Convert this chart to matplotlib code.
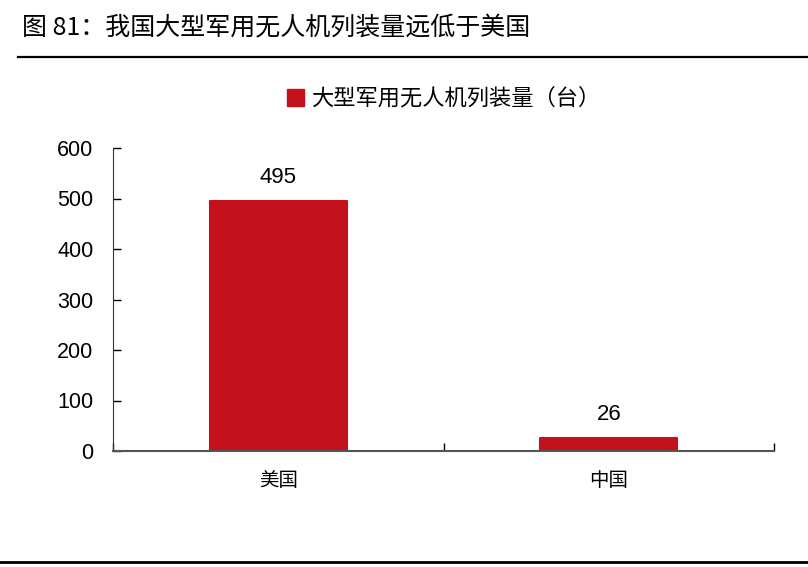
import matplotlib
matplotlib.use("Agg")
from matplotlib import pyplot as plt
from matplotlib.patches import Rectangle

plt.rcParams['font.family'] = ['Noto Sans CJK SC', 'DejaVu Sans']

categories = ["美国", "中国"]
values = [495, 26]
series_name = "大型军用无人机列装量（台）"
title = "图 81：我国大型军用无人机列装量远低于美国"
yticks = [0, 100, 200, 300, 400, 500, 600]

red = "#C3111D"
num_font = ['Liberation Sans Narrow', 'Liberation Sans', 'DejaVu Sans']

fig = plt.figure(figsize=(8.08, 5.67), dpi=100)
ax = fig.add_axes([113/808, 1-451/567, 661/808, (451-148)/567])

x = list(range(len(categories)))
bars = ax.bar(x, values, width=0.415, color=red, edgecolor=red,
              linewidth=1.5, joinstyle='round', label=series_name, zorder=2)
for xi, v in zip(x, values):
    ax.text(xi, v + 25, str(v), ha='center', va='bottom', fontsize=16,
            family=num_font)

ax.set_xlim(-0.5, len(categories) - 0.5)
ax.set_ylim(0, 600)
ax.set_yticks(yticks)
ax.set_yticklabels([str(t) for t in yticks], family=num_font, fontsize=15.5)
ax.set_xticks([-0.5, 0.5, 1.5], minor=True)
ax.set_xticks(x)
ax.set_xticklabels(categories, fontsize=14)
ax.tick_params(axis='x', which='major', length=0, pad=14)
ax.tick_params(axis='x', which='minor', direction='in', length=6, width=1)
ax.tick_params(axis='y', direction='in', length=6, width=1, pad=14)

for s in ['top', 'right']:
    ax.spines[s].set_visible(False)
ax.spines['left'].set_color('#333333')
ax.spines['bottom'].set_color('#555555')
ax.spines['bottom'].set_linewidth(1.5)

ax.legend(handles=[Rectangle((0, 0), 1, 1, color=red)], labels=[series_name],
          loc='lower center', bbox_to_anchor=(0.5, 1.06), frameon=False,
          fontsize=16, handlelength=0.8, handleheight=0.8, handletextpad=0.3)

fig.text(22/808, 1-28/567, title, fontsize=18, ha='left', va='center')
fig.add_artist(plt.Line2D([18/808, 1], [1-57/567, 1-57/567], color='black', lw=1.6))
fig.add_artist(plt.Line2D([0, 1], [1-562/567, 1-562/567], color='black', lw=2))

plt.savefig("out.png", dpi=100)
